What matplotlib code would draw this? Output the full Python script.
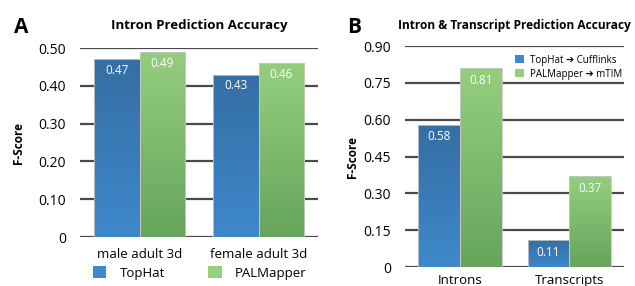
import matplotlib.pyplot as plt
import numpy as np
from matplotlib.colors import LinearSegmentedColormap
from matplotlib.patches import Patch

plt.rcParams["font.family"] = ["Open Sans", "DejaVu Sans"]

# panel A
categorias_a = ["male adult 3d", "female adult 3d"]
tophat_a = [0.47, 0.43]
palmapper_a = [0.49, 0.46]
ticks_a = [0, 0.10, 0.20, 0.30, 0.40, 0.50]
tick_labels_a = ["0", "0.10", "0.20", "0.30", "0.40", "0.50"]

# panel B
categorias_b = ["Introns", "Transcripts"]
tophat_b = [0.58, 0.11]
palmapper_b = [0.81, 0.37]
ticks_b = [0, 0.15, 0.30, 0.45, 0.60, 0.75, 0.90]
tick_labels_b = ["0", "0.15", "0.30", "0.45", "0.60", "0.75", "0.90"]

AZUL = ("#3e88cb", "#356ea3")   # base, topo
VERDE = ("#67a45c", "#95ce7f")
GRID = "#4a4a4a"


def barra_gradiente(ax, barras, cores):
    cmap = LinearSegmentedColormap.from_list("g", list(cores))
    grad = np.linspace(0, 1, 256).reshape(-1, 1)
    for b in barras:
        x, y = b.get_x(), b.get_y()
        w, h = b.get_width(), b.get_height()
        b.set_facecolor("none")
        img = ax.imshow(grad, cmap=cmap, origin="lower", aspect="auto",
                        extent=(x, x + w, y, y + h), zorder=2)
        img.set_clip_path(b)
    ax.set_xlim(-0.5, 1.5)


def desenhar(ax, categorias, serie1, serie2, ticks, tick_labels, largura, pad_x):
    x = np.arange(len(categorias))
    b1 = ax.bar(x - largura / 2, serie1, largura, edgecolor="#c8c8c8", linewidth=0.6, zorder=3)
    b2 = ax.bar(x + largura / 2, serie2, largura, edgecolor="#c8c8c8", linewidth=0.6, zorder=3)
    barra_gradiente(ax, b1, AZUL)
    barra_gradiente(ax, b2, VERDE)
    for barras, vals in ((b1, serie1), (b2, serie2)):
        for b, v in zip(barras, vals):
            ax.text(b.get_x() + b.get_width() / 2, v - ticks[-1] * 0.025, f"{v:.2f}",
                    ha="center", va="top", color="white", fontsize=8.5, zorder=4)
    ax.set_yticks(ticks)
    ax.set_yticklabels(tick_labels, fontsize=10)
    ax.set_ylim(0, ticks[-1])
    ax.yaxis.grid(True, color=GRID, linewidth=1.6, zorder=1)
    ax.set_axisbelow(True)
    ax.tick_params(axis="y", length=0, pad=10)
    ax.tick_params(axis="x", length=0, pad=pad_x, labelsize=9.5)
    ax.set_xticks(x)
    ax.set_xticklabels(categorias)
    for s in ax.spines.values():
        s.set_visible(False)
    ax.set_ylabel("F-Score", fontsize=8.5, fontweight="bold")


fig = plt.figure(figsize=(6.35, 2.86), dpi=100)

ax_a = fig.add_axes([0.126, 0.171, 0.375, 0.661])
desenhar(ax_a, categorias_a, tophat_a, palmapper_a, ticks_a, tick_labels_a, 0.385, 8)
ax_a.yaxis.set_label_coords(-0.23, 0.5)
ax_a.set_title("Intron Prediction Accuracy", fontsize=9.5, fontweight="bold", pad=13.5)
fig.text(0.022, 0.905, "A", fontsize=15, fontweight="bold", ha="left", va="center")
fig.legend(handles=[Patch(facecolor=AZUL[0], label="TopHat"),
                    Patch(facecolor=VERDE[1], label="PALMapper")],
           loc="center left", bbox_to_anchor=(0.128, 0.045), ncol=2, frameon=False,
           fontsize=9.5, handlelength=1.0, handleheight=1.0, columnspacing=3.3,
           handletextpad=1.0)

ax_b = fig.add_axes([0.638, 0.066, 0.345, 0.773])
desenhar(ax_b, categorias_b, tophat_b, palmapper_b, ticks_b, tick_labels_b, 0.38, 5)
ax_b.yaxis.set_label_coords(-0.21, 0.5)
ax_b.set_title("Intron & Transcript Prediction Accuracy", fontsize=8.6, fontweight="bold",
               pad=12.5)
fig.text(0.547, 0.905, "B", fontsize=15, fontweight="bold", ha="left", va="center")
ax_b.legend(handles=[Patch(facecolor=AZUL[0], label="TopHat \u2794 Cufflinks"),
                     Patch(facecolor=VERDE[1], label="PALMapper \u2794 mTIM")],
            loc="upper right", bbox_to_anchor=(1.03, 1.0), frameon=False, fontsize=7,
            handlelength=0.9, handleheight=0.9, handletextpad=0.6, labelspacing=0.3)

fig.savefig("out.png", dpi=100)
